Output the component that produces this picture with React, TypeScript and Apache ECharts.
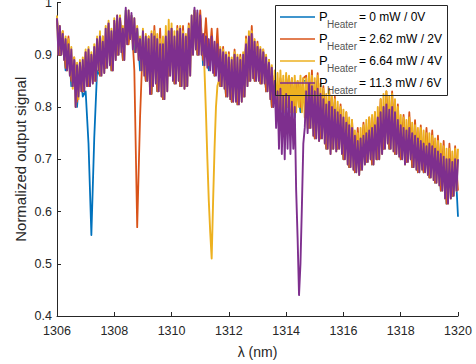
import React, { useEffect, useRef } from "react";
import * as echarts from "echarts";

// Wavelength sampling grids (nm)
const wavelength: number[] = Array.from({ length: 141 }, (_, i) => +(1306 + i * 0.1).toFixed(2));
const wavelengthFine: number[] = Array.from({ length: 281 }, (_, i) => +(1306 + i * 0.05).toFixed(2));

const seriesNames = ["0 mW / 0V", "2.62 mW / 2V", "6.64 mW / 4V", "11.3 mW / 6V"];
const seriesColors = ["#0072BD", "#D95319", "#EDB120", "#7E2F8E"];

const xTicks = [1306, 1308, 1310, 1312, 1314, 1316, 1318, 1320];
const yTicks = [0.4, 0.5, 0.6, 0.7, 0.8, 0.9, 1.0];

// P_Heater = 0 mW / 0V  (0.1 nm grid)
const heater0: number[] = [
  0.965, 0.90, 0.94, 0.87, 0.92, 0.84, 0.89, 0.80, 0.88, 0.82,
  0.83, 0.73, 0.555, 0.74, 0.87, 0.86, 0.925, 0.875, 0.955, 0.87,
  0.96, 0.90, 0.97, 0.89, 0.985, 0.93, 0.975, 0.905, 0.95, 0.87,
  0.94, 0.85, 0.93, 0.825, 0.94, 0.83, 0.925, 0.815, 0.935, 0.86,
  0.945, 0.845, 0.945, 0.84, 0.94, 0.84, 0.95, 0.90, 0.985, 0.90,
  0.97, 0.88, 0.935, 0.87, 0.935, 0.86, 0.92, 0.84, 0.905, 0.82,
  0.895, 0.81, 0.90, 0.805, 0.89, 0.82, 0.92, 0.85, 0.94, 0.85,
  0.915, 0.845, 0.905, 0.83, 0.885, 0.80, 0.855, 0.78, 0.85, 0.78,
  0.855, 0.79, 0.85, 0.78, 0.845, 0.79, 0.85, 0.85, 0.76, 0.855,
  0.74, 0.85, 0.74, 0.83, 0.72, 0.82, 0.72, 0.81, 0.72, 0.795,
  0.70, 0.78, 0.685, 0.765, 0.675, 0.745, 0.68, 0.755, 0.695, 0.765,
  0.69, 0.775, 0.70, 0.80, 0.72, 0.815, 0.72, 0.81, 0.71, 0.785,
  0.70, 0.77, 0.695, 0.77, 0.685, 0.755, 0.675, 0.745, 0.675, 0.735,
  0.665, 0.735, 0.655, 0.725, 0.64, 0.715, 0.615, 0.71, 0.63, 0.70,
  0.59,
];

// P_Heater = 2.62 mW / 2V  (0.1 nm grid)
const heater2: number[] = [
  0.97, 0.90, 0.945, 0.875, 0.935, 0.85, 0.895, 0.81, 0.885, 0.83,
  0.905, 0.84, 0.90, 0.85, 0.93, 0.86, 0.935, 0.875, 0.96, 0.87,
  0.965, 0.90, 0.975, 0.89, 0.975, 0.92, 0.97, 0.87, 0.57, 0.78,
  0.93, 0.85, 0.935, 0.825, 0.955, 0.83, 0.95, 0.815, 0.94, 0.86,
  0.95, 0.845, 0.955, 0.84, 0.955, 0.84, 0.96, 0.90, 0.985, 0.90,
  0.985, 0.89, 0.97, 0.88, 0.95, 0.86, 0.95, 0.84, 0.915, 0.82,
  0.905, 0.81, 0.91, 0.805, 0.90, 0.82, 0.935, 0.85, 0.955, 0.85,
  0.925, 0.845, 0.91, 0.83, 0.89, 0.80, 0.86, 0.79, 0.855, 0.79,
  0.86, 0.80, 0.855, 0.79, 0.85, 0.80, 0.855, 0.86, 0.76, 0.87,
  0.74, 0.865, 0.74, 0.84, 0.72, 0.835, 0.72, 0.82, 0.72, 0.805,
  0.70, 0.79, 0.685, 0.775, 0.675, 0.76, 0.68, 0.77, 0.695, 0.78,
  0.69, 0.79, 0.70, 0.815, 0.72, 0.83, 0.72, 0.83, 0.71, 0.805,
  0.70, 0.785, 0.695, 0.79, 0.685, 0.775, 0.675, 0.765, 0.675, 0.76,
  0.665, 0.755, 0.655, 0.745, 0.64, 0.735, 0.615, 0.73, 0.63, 0.725,
  0.64,
];

// P_Heater = 6.64 mW / 4V  (0.05 nm grid)
const heater4: number[] = [
  0.975, 0.90, 0.955, 0.90, 0.945, 0.89, 0.935, 0.87, 0.93, 0.86,
  0.915, 0.835, 0.895, 0.80, 0.885, 0.815, 0.89, 0.83, 0.895, 0.83,
  0.91, 0.84, 0.915, 0.84, 0.905, 0.845, 0.92, 0.85, 0.935, 0.87,
  0.945, 0.86, 0.935, 0.865, 0.955, 0.875, 0.965, 0.88, 0.95, 0.87,
  0.97, 0.89, 0.975, 0.90, 0.975, 0.905, 0.955, 0.89, 0.985, 0.92,
  0.985, 0.93, 0.975, 0.91, 0.97, 0.905, 0.955, 0.89, 0.935, 0.87,
  0.95, 0.86, 0.94, 0.85, 0.935, 0.825, 0.945, 0.84, 0.945, 0.845,
  0.94, 0.83, 0.93, 0.82, 0.935, 0.815, 0.955, 0.83, 0.967, 0.86,
  0.96, 0.85, 0.945, 0.845, 0.95, 0.85, 0.955, 0.84, 0.945, 0.835,
  0.94, 0.84, 0.955, 0.86, 0.975, 0.90, 0.985, 0.91, 0.98, 0.90,
  0.97, 0.90, 0.94, 0.87, 0.79, 0.70, 0.62, 0.56, 0.51, 0.62,
  0.72, 0.80, 0.84, 0.85, 0.915, 0.84, 0.91, 0.835, 0.905, 0.82,
  0.90, 0.815, 0.895, 0.81, 0.905, 0.81, 0.90, 0.805, 0.895, 0.81,
  0.905, 0.82, 0.93, 0.84, 0.945, 0.85, 0.945, 0.855, 0.93, 0.85,
  0.92, 0.85, 0.915, 0.845, 0.91, 0.845, 0.90, 0.83, 0.89, 0.815,
  0.88, 0.80, 0.87, 0.79, 0.865, 0.79, 0.87, 0.795, 0.86, 0.79,
  0.865, 0.80, 0.86, 0.79, 0.855, 0.79, 0.86, 0.79, 0.85, 0.80,
  0.86, 0.79, 0.855, 0.78, 0.855, 0.76, 0.865, 0.76, 0.86, 0.745,
  0.855, 0.74, 0.86, 0.735, 0.845, 0.74, 0.835, 0.73, 0.825, 0.72,
  0.83, 0.71, 0.82, 0.72, 0.815, 0.715, 0.81, 0.72, 0.80, 0.71,
  0.795, 0.70, 0.79, 0.69, 0.78, 0.685, 0.775, 0.68, 0.755, 0.675,
  0.75, 0.67, 0.76, 0.68, 0.765, 0.69, 0.775, 0.695, 0.78, 0.70,
  0.785, 0.69, 0.79, 0.70, 0.80, 0.70, 0.815, 0.71, 0.825, 0.72,
  0.83, 0.73, 0.82, 0.72, 0.825, 0.715, 0.815, 0.71, 0.80, 0.705,
  0.785, 0.70, 0.78, 0.69, 0.775, 0.695, 0.78, 0.70, 0.77, 0.685,
  0.765, 0.68, 0.76, 0.675, 0.76, 0.68, 0.755, 0.675, 0.75, 0.67,
  0.75, 0.665, 0.745, 0.66, 0.74, 0.655, 0.735, 0.65, 0.73, 0.64,
  0.725, 0.625, 0.72, 0.615, 0.72, 0.625, 0.715, 0.63, 0.72, 0.64,
  0.72,
];

// P_Heater = 11.3 mW / 6V  (0.05 nm grid)
const heater6: number[] = [
  0.97, 0.90, 0.955, 0.90, 0.94, 0.89, 0.93, 0.87, 0.92, 0.86,
  0.91, 0.84, 0.89, 0.80, 0.88, 0.82, 0.885, 0.83, 0.89, 0.83,
  0.905, 0.84, 0.91, 0.84, 0.90, 0.845, 0.915, 0.85, 0.93, 0.87,
  0.935, 0.86, 0.925, 0.865, 0.95, 0.875, 0.96, 0.88, 0.945, 0.87,
  0.965, 0.89, 0.975, 0.90, 0.97, 0.905, 0.95, 0.89, 0.99, 0.92,
  0.985, 0.93, 0.98, 0.91, 0.97, 0.905, 0.95, 0.89, 0.93, 0.87,
  0.945, 0.86, 0.935, 0.85, 0.93, 0.825, 0.94, 0.84, 0.935, 0.845,
  0.93, 0.83, 0.92, 0.82, 0.92, 0.815, 0.935, 0.83, 0.945, 0.86,
  0.95, 0.85, 0.935, 0.845, 0.945, 0.85, 0.95, 0.84, 0.94, 0.835,
  0.935, 0.84, 0.95, 0.86, 0.975, 0.90, 0.99, 0.91, 0.985, 0.90,
  0.975, 0.90, 0.94, 0.88, 0.935, 0.875, 0.93, 0.87, 0.935, 0.865,
  0.925, 0.86, 0.92, 0.85, 0.91, 0.84, 0.905, 0.835, 0.90, 0.82,
  0.895, 0.815, 0.89, 0.81, 0.90, 0.81, 0.895, 0.805, 0.89, 0.81,
  0.90, 0.82, 0.92, 0.84, 0.935, 0.85, 0.94, 0.855, 0.925, 0.85,
  0.915, 0.85, 0.91, 0.845, 0.905, 0.845, 0.895, 0.83, 0.885, 0.815,
  0.875, 0.80, 0.85, 0.76, 0.83, 0.72, 0.835, 0.71, 0.82, 0.70,
  0.825, 0.72, 0.82, 0.71, 0.81, 0.72, 0.80, 0.64, 0.55, 0.44,
  0.50, 0.61, 0.73, 0.76, 0.83, 0.75, 0.845, 0.76, 0.84, 0.745,
  0.83, 0.74, 0.835, 0.735, 0.825, 0.74, 0.815, 0.73, 0.805, 0.72,
  0.81, 0.71, 0.80, 0.72, 0.795, 0.715, 0.79, 0.72, 0.785, 0.71,
  0.78, 0.70, 0.77, 0.69, 0.765, 0.685, 0.76, 0.68, 0.745, 0.675,
  0.735, 0.67, 0.74, 0.68, 0.745, 0.69, 0.75, 0.695, 0.755, 0.70,
  0.76, 0.69, 0.765, 0.70, 0.78, 0.70, 0.79, 0.71, 0.80, 0.72,
  0.805, 0.73, 0.795, 0.72, 0.80, 0.715, 0.79, 0.71, 0.775, 0.705,
  0.765, 0.70, 0.76, 0.69, 0.755, 0.695, 0.76, 0.70, 0.75, 0.685,
  0.745, 0.68, 0.74, 0.675, 0.735, 0.68, 0.73, 0.675, 0.725, 0.67,
  0.73, 0.665, 0.725, 0.66, 0.72, 0.655, 0.715, 0.65, 0.71, 0.64,
  0.705, 0.625, 0.70, 0.615, 0.70, 0.625, 0.695, 0.63, 0.70, 0.64,
  0.70,
];

const seriesValues = [heater0, heater2, heater4, heater6];
const seriesGrids = [wavelength, wavelength, wavelengthFine, wavelengthFine];

const AXIS = "#262626";
const FONT = '"Liberation Sans", Arial, Helvetica, sans-serif';

export default function App() {
  const ref = useRef<HTMLDivElement>(null);
  useEffect(() => {
    if (!ref.current) return;
    const chart = echarts.init(ref.current, undefined, { renderer: "svg" });

    // container is shifted up by 4px (the reference crops the top of the axes)
    const off = 4;
    const legendX = 275.5;
    const legendY = 5.5 + off;
    const rowH = 22;
    const legendGraphics: any[] = [
      {
        type: "rect",
        z: 100,
        shape: { x: legendX, y: legendY, width: 172, height: 90 },
        style: { fill: "none", stroke: AXIS, lineWidth: 1 },
      },
    ];
    seriesNames.forEach((name, k) => {
      const cy = 16.5 + off + rowH * k;
      legendGraphics.push({
        type: "line",
        z: 100,
        shape: { x1: 280, y1: cy + 0.5, x2: 315, y2: cy + 0.5 },
        style: { stroke: seriesColors[k], lineWidth: 1.5 },
      });
      legendGraphics.push({
        type: "text",
        z: 100,
        x: 319,
        y: cy,
        style: {
          text: "P",
          font: `13px ${FONT}`,
          fill: "#000",
          textAlign: "left",
          textVerticalAlign: "middle",
          align: "left",
          verticalAlign: "middle",
        },
      });
      legendGraphics.push({
        type: "text",
        z: 100,
        x: 327,
        y: cy + 7.5,
        style: {
          text: "Heater",
          font: `10px ${FONT}`,
          fill: "#555",
          textAlign: "left",
          textVerticalAlign: "middle",
          align: "left",
          verticalAlign: "middle",
        },
      });
      legendGraphics.push({
        type: "text",
        z: 100,
        x: 359,
        y: cy,
        style: {
          text: "= " + name,
          font: `12px ${FONT}`,
          fill: "#000",
          textAlign: "left",
          textVerticalAlign: "middle",
          align: "left",
          verticalAlign: "middle",
        },
      });
    });

    chart.setOption({
      animation: false,
      backgroundColor: "#ffffff",
      grid: { left: 57, right: 18, top: 0, bottom: 48 },
      xAxis: {
        type: "value",
        min: xTicks[0],
        max: xTicks[xTicks.length - 1],
        interval: 2,
        name: "λ (nm)",
        nameLocation: "middle",
        nameGap: 29,
        nameMoveOverlap: false,
        nameTextStyle: { fontSize: 14, color: AXIS, fontFamily: FONT },
        axisLine: { lineStyle: { color: AXIS, width: 1 } },
        axisTick: { inside: true, length: 4, lineStyle: { color: AXIS } },
        axisLabel: {
          fontSize: 12.5,
          color: AXIS,
          fontFamily: FONT,
          margin: 8,
          formatter: (v: number) => String(v),
        },
        splitLine: { show: false },
      },
      yAxis: {
        type: "value",
        min: yTicks[0],
        max: yTicks[yTicks.length - 1],
        interval: 0.1,
        name: "Normalized output signal",
        nameLocation: "middle",
        nameGap: 29,
        nameMoveOverlap: false,
        nameTextStyle: { fontSize: 15, color: AXIS, fontFamily: FONT },
        axisLine: { show: true, lineStyle: { color: AXIS, width: 1 } },
        axisTick: { show: true, inside: true, length: 4, lineStyle: { color: AXIS } },
        axisLabel: {
          fontSize: 12.5,
          color: AXIS,
          fontFamily: FONT,
          margin: 5,
          formatter: (v: number) => String(Math.round(v * 10) / 10),
        },
        splitLine: { show: false },
      },
      series: seriesValues.map((vals, k) => ({
        name: seriesNames[k],
        type: "line",
        showSymbol: false,
        symbol: "none",
        clip: true,
        data: vals.map((v, i) => [seriesGrids[k][i], v]),
        lineStyle: { color: seriesColors[k], width: k >= 2 ? 1.9 : 1.8, join: "round" },
        itemStyle: { color: seriesColors[k] },
        z: 2 + k,
      })),
      graphic: legendGraphics,
    });

    return () => chart.dispose();
  }, []);

  return (
    <div
      ref={ref}
      style={{ position: "fixed", left: 0, top: -4, width: 476, height: 368, background: "#fff" }}
    />
  );
}
